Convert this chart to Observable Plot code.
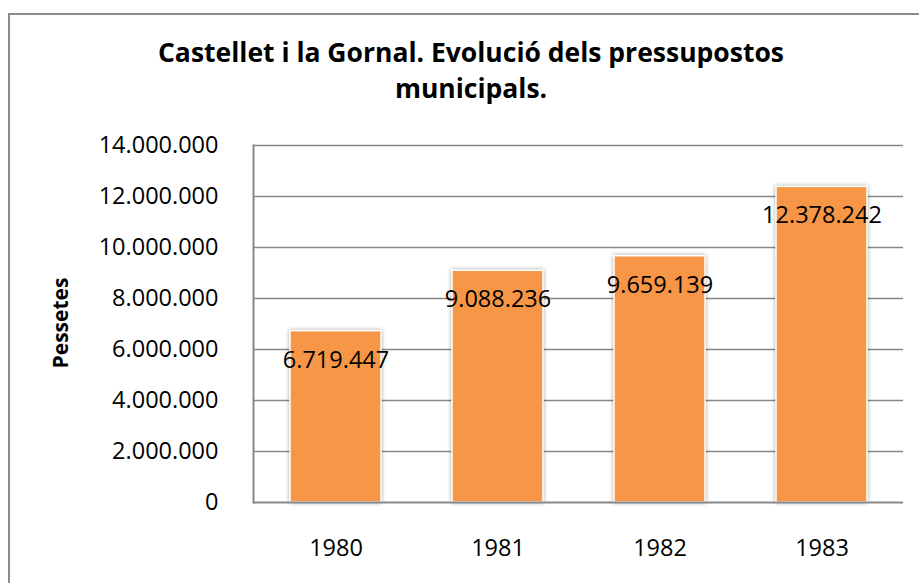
<!DOCTYPE html>
<html>
<head>
<meta charset="utf-8">
<script src="https://cdn.jsdelivr.net/npm/d3@7"></script>
<script src="https://cdn.jsdelivr.net/npm/@observablehq/plot@0.6"></script>
<style>
  html, body { margin: 0; padding: 0; background: #fff; overflow: hidden; }
  #wrap { position: relative; width: 919px; height: 583px; font-family: "Open Sans", Lato, sans-serif; }
  #border { position: absolute; left: 8px; top: 13px; width: 1000px; height: 700px;
            border-left: 2px solid #8c8c8c; border-top: 2px solid #8c8c8c; box-sizing: border-box; }
  #title { position: absolute; left: 121px; width: 700px; top: 34px; text-align: center;
           font-weight: bold; font-size: 26.5px; line-height: 36px; color: #000; }
  #ylabel { position: absolute; left: 60px; top: 323px; transform: translate(-50%, -50%) rotate(-90deg);
            font-weight: bold; font-size: 21px; white-space: nowrap; color: #000; }
  #chart { position: absolute; left: 0; top: 0; }
  g[aria-label="bar"] rect { filter: drop-shadow(0 0 2px rgba(0,0,0,0.35)); }
</style>
</head>
<body>
<div id="wrap">
  <div id="border"></div>
  <div id="chart"></div>
  <div id="title">Castellet i la Gornal. Evolució dels pressupostos<br>municipals.</div>
  <div id="ylabel">Pessetes</div>
</div>
<script>
const years = ["1980", "1981", "1982", "1983"];
const budgets = [6719447, 9088236, 9659139, 12378242];
const yTicks = [0, 2000000, 4000000, 6000000, 8000000, 10000000, 12000000, 14000000];

const data = years.map((y, i) => ({year: y, value: budgets[i]}));
const fmt = d3.formatLocale({decimal: ",", thousands: ".", grouping: [3], currency: ["", ""]}).format(",d");

const chart = Plot.plot({
  width: 919,
  height: 583,
  marginTop: 145,
  marginLeft: 253,
  marginRight: 16,
  marginBottom: 81,
  style: {fontFamily: "'Open Sans', Lato, sans-serif", background: "transparent", color: "#000"},
  x: {domain: years, paddingInner: 0.44, paddingOuter: 0.22, label: null},
  y: {domain: [0, 14000000], label: null},
  marks: [
    Plot.gridY(yTicks.filter(d => d > 0), {stroke: "#888888", strokeOpacity: 1, strokeWidth: 1.7}),
    Plot.barY(data, {x: "year", y: "value", fill: "#F79646", stroke: "#fff", strokeWidth: 1.5}),
    Plot.ruleY([0], {stroke: "#888888", strokeWidth: 2}),
    Plot.frame({anchor: "left", stroke: "#888888", strokeWidth: 2}),
    Plot.text(data, {x: "year", y: "value", text: d => fmt(d.value), dy: 29, fontSize: 23.5, fill: "#000"}),
    Plot.axisY({ticks: yTicks, tickSize: 0, tickPadding: 35, tickFormat: fmt, fontSize: 23.5, label: null}),
    Plot.axisX({tickSize: 0, tickPadding: 37, fontSize: 23.5, label: null})
  ]
});
document.getElementById("chart").appendChild(chart);
</script>
</body>
</html>
